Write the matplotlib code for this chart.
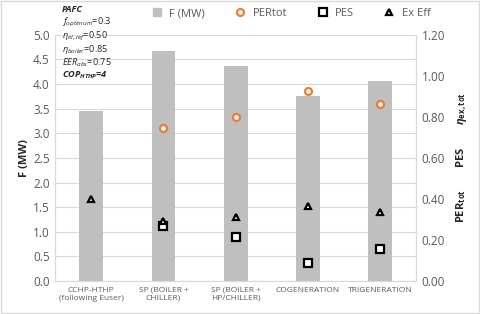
import matplotlib
matplotlib.use('Agg')
import matplotlib.pyplot as plt
import numpy as np
from matplotlib.lines import Line2D
from matplotlib.patches import Rectangle

plt.rcParams['font.family'] = ['Open Sans', 'DejaVu Sans']
plt.rcParams['mathtext.fontset'] = 'custom'
plt.rcParams['mathtext.it'] = 'Open Sans:italic'
plt.rcParams['mathtext.rm'] = 'Open Sans:bold'
plt.rcParams['mathtext.bf'] = 'Open Sans:bold:italic'

categories = ['CCHP-HTHP\n(following Euser)', 'SP (BOILER +\nCHILLER)',
              'SP (BOILER +\nHP/CHILLER)', 'COGENERATION', 'TRIGENERATION']
F_MW = [3.45, 4.68, 4.37, 3.76, 4.06]
PERtot = [np.nan, 0.746, 0.80, 0.928, 0.863]
PES = [np.nan, 0.266, 0.214, 0.09, 0.157]
ExEff = [0.40, 0.293, 0.314, 0.366, 0.337]

grey = '#595959'
fig = plt.figure(figsize=(4.8, 3.14), dpi=100)
ax = fig.add_axes([0.115, 0.105, 0.752, 0.784])
ax2 = ax.twinx()

x = np.arange(len(categories))
ax.bar(x, F_MW, 0.33, color='#bfbfbf', zorder=2)
ax.set_ylim(0, 5.0)
ax.set_yticks(np.arange(0, 5.01, 0.5))
ax.set_yticklabels(['%.1f' % v for v in np.arange(0, 5.01, 0.5)])
ax.set_xlim(-0.5, 4.5)
ax.set_xticks(x)
ax.set_xticklabels(categories)
ax.grid(axis='y', color='#d9d9d9', linewidth=0.8, zorder=0)
ax.set_axisbelow(True)
ax.set_ylabel('F (MW)', fontsize=8, fontweight='bold', color='#262626', labelpad=2)

ax2.plot(x, PERtot, 'o', ms=5, mfc='white', mec='#ed7d31', mew=1.6, zorder=5)
ax2.plot(x, PES, 's', ms=6, mfc='white', mec='black', mew=1.6, zorder=5)
ax2.plot(x, ExEff, '^', ms=5, mfc='white', mec='black', mew=1.6, zorder=5)
ax2.set_ylim(0, 1.2)
ax2.set_yticks(np.arange(0, 1.21, 0.2))
ax2.set_yticklabels(['%.2f' % v for v in np.arange(0, 1.21, 0.2)])
ax2.set_ylabel(r'PER$_{\mathrm{tot}}$        PES        $\mathbf{\eta}_{\mathrm{ex,tot}}$',
               fontsize=8, fontweight='bold', color='#262626', labelpad=6)

for a in (ax, ax2):
    a.tick_params(length=0, labelsize=8.5, colors=grey, pad=4)
    for s in a.spines.values():
        s.set_color('#d9d9d9')
        s.set_linewidth(0.8)
    a.spines['top'].set_visible(False)
ax.tick_params(axis='x', labelsize=6, pad=4)

handles = [Line2D([], [], ls='none', marker='s', ms=5.5, mfc='#bfbfbf', mec='#bfbfbf'),
           Line2D([], [], ls='none', marker='o', ms=5, mfc='white', mec='#ed7d31', mew=1.6),
           Line2D([], [], ls='none', marker='s', ms=5.5, mfc='white', mec='black', mew=1.6),
           Line2D([], [], ls='none', marker='^', ms=5, mfc='white', mec='black', mew=1.6)]
fig.legend(handles, ['F (MW)', 'PERtot', 'PES', 'Ex Eff'], loc='center',
           bbox_to_anchor=(0.6, 0.957), ncol=4, frameon=False, fontsize=8,
           handletextpad=0.1, columnspacing=2.2, labelcolor=grey)

info = [(r'PAFC', dict(fontweight='bold', style='italic')),
        (r'$f_{optimum}$=0.3', {}),
        (r'$\eta_{el,ref}$=0.50', {}),
        (r'$\eta_{boiler}$=0.85', {}),
        (r'$EER_{abs}$=0.75', {}),
        (r'$\mathbf{COP_{HTHP}}$=4', dict(fontweight='bold', style='italic'))]
ys = [9, 22, 36.5, 49.5, 62.5, 75.5]
for (t, kw), yy in zip(info, ys):
    fig.text(62 / 480, 1 - yy / 314, t, fontsize=6.6, color='#262626', va='center', **kw)

fig.add_artist(Rectangle((0.002, 0.003), 0.996, 0.994, transform=fig.transFigure,
                         fill=False, edgecolor='#d9d9d9', linewidth=1))

fig.savefig('out.png', dpi=100)
